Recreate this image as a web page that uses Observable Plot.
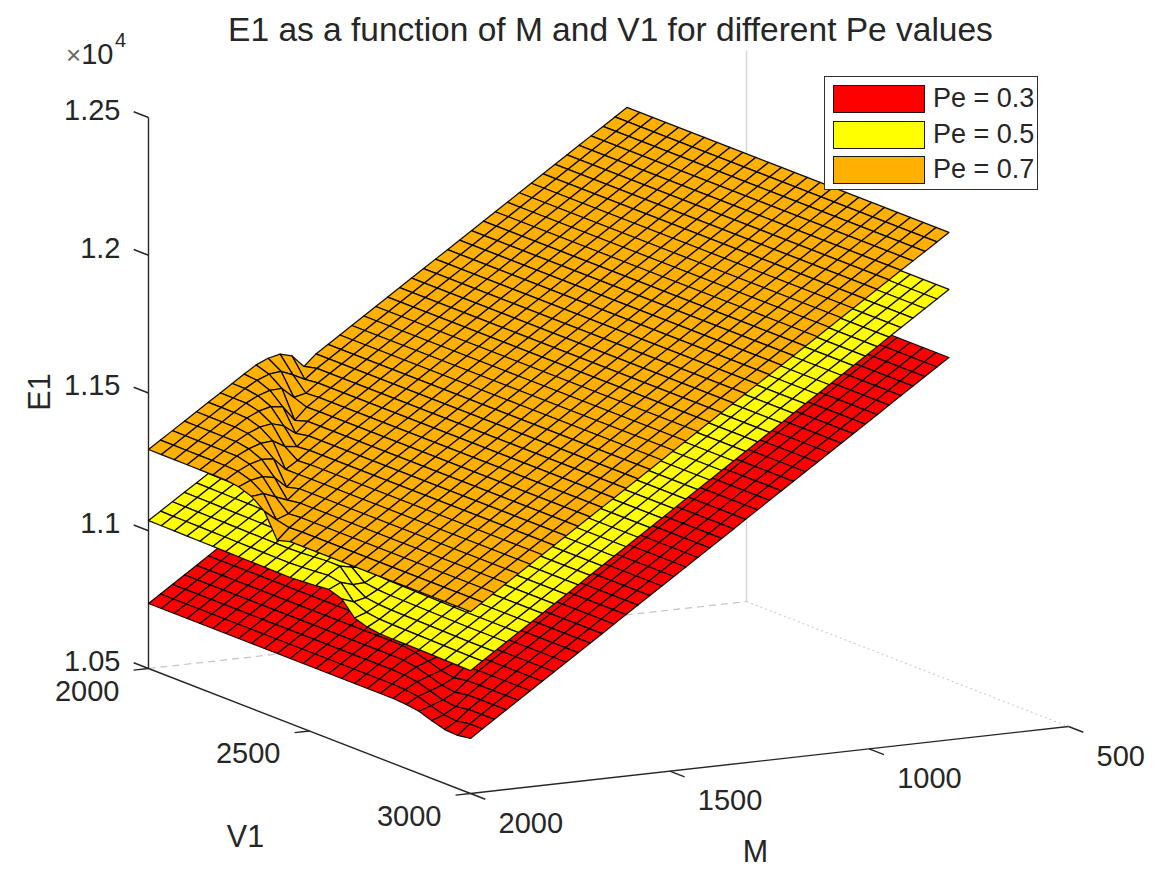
<!DOCTYPE html>
<html>
<head>
<meta charset="utf-8">
<script src="https://cdn.jsdelivr.net/npm/d3@7"></script>
<script src="https://cdn.jsdelivr.net/npm/@observablehq/plot@0.6"></script>
<style>
  body { margin: 0; background: #fff; }
  #wrap { position: relative; width: 1161px; height: 877px; font-family: "Liberation Sans", Arial, sans-serif; color: #262626; }
  #title { height: 28px; padding-top: 16px; line-height: 28px; font-size: 33.5px; text-align: center; width: 1161px; padding-left: 30px; box-sizing: content-box; white-space: nowrap; }
  #legend { position: absolute; left: 824px; top: 76px; width: 212px; height: 112px; border: 1px solid #303030; background: #fff; }
  .row { position: absolute; left: 0; height: 27px; width: 212px; }
  .patch { position: absolute; left: 8px; top: 0; width: 90px; height: 26px; border: 1px solid #1a1a1a; }
  .lab { position: absolute; left: 108px; top: 0; line-height: 27px; font-size: 27px; white-space: nowrap; }
  #exp { position: absolute; left: 66px; top: 40px; font-size: 29px; line-height: 29px; white-space: nowrap; }
  #exp .x { color: #6a6a6a; font-size: 26px; }
  #exp4 { position: absolute; left: 115px; top: 30px; font-size: 20px; line-height: 20px; }
</style>
</head>
<body>
<div id="wrap">
  <div id="title">E1 as a function of M and V1 for different Pe values</div>
  <div id="chart"></div>
  <div id="exp"><span class="x">×</span>10</div>
  <div id="exp4">4</div>
  <div id="legend"></div>
</div>
<script>
// ---------------- data ----------------
const M_GRID = [800, 830, 860, 890, 920, 950, 980, 1010, 1040, 1070, 1100, 1130, 1160, 1190, 1220, 1250, 1280, 1310, 1340, 1370, 1400, 1430, 1460, 1490, 1520, 1550, 1580, 1610, 1640, 1670, 1700, 1730, 1760, 1790, 1820, 1850, 1880, 1910, 1940, 1970, 2000];
const V1_GRID = [2000, 2040, 2080, 2120, 2160, 2200, 2240, 2280, 2320, 2360, 2400, 2440, 2480, 2520, 2560, 2600, 2640, 2680, 2720, 2760, 2800, 2840, 2880, 2920, 2960, 3000];

const PE_LABELS = ["Pe = 0.3", "Pe = 0.5", "Pe = 0.7"];
const PE_COLORS = ["#ff0000", "#ffff00", "#ffb000"];

// E1 of each surface on the plain side, at M = 800 and M = 2000
const BASE_M = [800, 2000];
const BASE_PE03 = [11888, 10700];
const BASE_PE05 = [12135, 10946];
const BASE_PE07 = [12342, 11160];

// step near the M=2000 / V1=2000 corner: extra E1 versus the ratio q = (V1/2000)/(M/2000)^0.85
const Q_EXPONENT = 0.85;
const STEP_Q_PE03 = [1.0, 1.39, 1.42, 1.445, 1.47, 1.49, 1.5, 4];
const STEP_PE03   = [36, 36, 26, 6, -11, -4, 0, 0];
const STEP_Q_PE05 = [1.0, 1.22, 1.27, 1.29, 1.305, 1.318, 1.33, 1.36, 1.5, 4];
const STEP_PE05   = [91, 84, 92, 98, 70, 30, 16, 6, 0, 0];
const STEP_Q_PE07 = [1.0, 1.13, 1.15, 1.165, 1.178, 1.19, 1.199, 1.208, 1.22, 4];
const STEP_PE07   = [135, 133, 121, 104, 80, 42, -15, -5, 0, 0];

const E1_TICKS = [10500, 11000, 11500, 12000, 12500];
const E1_TICK_LABELS = ["1.05", "1.1", "1.15", "1.2", "1.25"];
const M_TICKS = [2000, 1500, 1000, 500];
const V1_TICKS = [2000, 2500, 3000];

// ---------------- view (layout) ----------------
const W = 1161, TOP = 44, H = 877 - TOP;
const BOX_M = [2000, 500], BOX_V = [2000, 3000], BOX_E = [10500, 12500];
const ORIGIN = [148, 668 - TOP];
const VEC_M = [598, -67], VEC_V = [322, 125], VEC_E = [0, -551];

function norm(m, v, e) {
  return [(BOX_M[0] - m) / (BOX_M[0] - BOX_M[1]), (v - BOX_V[0]) / (BOX_V[1] - BOX_V[0]), (e - BOX_E[0]) / (BOX_E[1] - BOX_E[0])];
}
function project(m, v, e) {
  const [a, b, c] = norm(m, v, e);
  return [ORIGIN[0] + a * VEC_M[0] + b * VEC_V[0] + c * VEC_E[0],
          ORIGIN[1] + a * VEC_M[1] + b * VEC_V[1] + c * VEC_E[1]];
}
// direction toward the viewer (null space of the projection)
const VIEW = [(VEC_V[0] * VEC_E[1] - VEC_E[0] * VEC_V[1]),
              (VEC_E[0] * VEC_M[1] - VEC_M[0] * VEC_E[1]),
              (VEC_M[0] * VEC_V[1] - VEC_V[0] * VEC_M[1])];
function depth(m, v, e) {
  const p = norm(m, v, e);
  return VIEW[0] * p[0] + VIEW[1] * p[1] + VIEW[2] * p[2];
}
function interp(xs, ys, x) {
  if (x <= xs[0]) return ys[0];
  for (let i = 1; i < xs.length; i++) {
    if (x <= xs[i]) { const t = (x - xs[i - 1]) / (xs[i] - xs[i - 1]); return ys[i - 1] + t * (ys[i] - ys[i - 1]); }
  }
  return ys[ys.length - 1];
}

const SURFACES = [
  {label: PE_LABELS[0], color: PE_COLORS[0], base: BASE_PE03, stepQ: STEP_Q_PE03, step: STEP_PE03},
  {label: PE_LABELS[1], color: PE_COLORS[1], base: BASE_PE05, stepQ: STEP_Q_PE05, step: STEP_PE05},
  {label: PE_LABELS[2], color: PE_COLORS[2], base: BASE_PE07, stepQ: STEP_Q_PE07, step: STEP_PE07}
];

function e1At(s, m, v) {
  const q = (v / 2000) / Math.pow(m / 2000, Q_EXPONENT);
  return interp(BASE_M, s.base, m) + interp(s.stepQ, s.step, q);
}

function buildQuads(s, sIdx) {
  const Z = M_GRID.map(m => V1_GRID.map(v => e1At(s, m, v)));
  const quads = [];
  for (let i = 0; i < M_GRID.length - 1; i++) {
    for (let j = 0; j < V1_GRID.length - 1; j++) {
      const corners = [[i, j], [i + 1, j], [i + 1, j + 1], [i, j + 1]];
      let dm = 0, dv = 0, de = 0;
      const pts = corners.map(([ii, jj]) => {
        dm += M_GRID[ii]; dv += V1_GRID[jj]; de += Z[ii][jj];
        return project(M_GRID[ii], V1_GRID[jj], Z[ii][jj]);
      });
      quads.push({id: sIdx * 10000 + i * 100 + j, d: depth(dm / 4, dv / 4, de / 4), pts});
    }
  }
  quads.sort((p, q) => p.d - q.d);
  const rows = [];
  for (const qd of quads) for (const p of qd.pts) rows.push({id: qd.id, x: p[0], y: p[1]});
  return rows;
}

// axes
const A0 = project(2000, 2000, 10500), B0 = project(2000, 3000, 10500), C0 = project(500, 3000, 10500), D0 = project(500, 2000, 10500);
const Dtop = project(500, 2000, 12500), Atop = project(2000, 2000, 12500);
const axisLines = [
  {p: A0, q: Atop}, {p: A0, q: B0}, {p: B0, q: C0}
];
const e1Ticks = E1_TICKS.map((e, k) => ({p: project(2000, 2000, e), q: project(2000, 2000 - 46, e), label: E1_TICK_LABELS[k]}));
const v1Ticks = V1_TICKS.map(v => ({p: project(2000, v, 10500), q: project(2037.5, v, 10500), label: String(v)}));
const mTicks = M_TICKS.map(m => ({p: project(m, 3000, 10500), q: project(m, 3046, 10500), label: String(m)}));
const ticks = [...e1Ticks, ...v1Ticks, ...mTicks];

const FONT = "Liberation Sans, Arial, sans-serif";
const INK = "#262626";

const marks = [
  // back box lines
  Plot.link([{p: A0, q: D0}], {x1: d => d.p[0], y1: d => d.p[1], x2: d => d.q[0], y2: d => d.q[1], stroke: "#c4c4c4", strokeWidth: 1.2, strokeDasharray: "7,5"}),
  Plot.link([{p: D0, q: C0}], {x1: d => d.p[0], y1: d => d.p[1], x2: d => d.q[0], y2: d => d.q[1], stroke: "#cccccc", strokeWidth: 1.1, strokeDasharray: "2,3"}),
  Plot.link([{p: D0, q: Dtop}], {x1: d => d.p[0], y1: d => d.p[1], x2: d => d.q[0], y2: d => d.q[1], stroke: "#d6d6d6", strokeWidth: 1.5}),
  // axes
  Plot.link(axisLines, {x1: d => d.p[0], y1: d => d.p[1], x2: d => d.q[0], y2: d => d.q[1], stroke: INK, strokeWidth: 1.4}),
  Plot.link(ticks, {x1: d => d.p[0], y1: d => d.p[1], x2: d => d.q[0], y2: d => d.q[1], stroke: INK, strokeWidth: 1.4})
];

SURFACES.forEach((s, k) => {
  marks.push(Plot.line(buildQuads(s, k), {
    x: "x", y: "y", z: "id", curve: "linear-closed",
    fill: s.color, stroke: "#000", strokeWidth: 1.25, strokeOpacity: 0.95, strokeLinejoin: "round"
  }));
});

marks.push(
  Plot.text(e1Ticks, {x: d => d.p[0] - 28, y: d => d.p[1] - 7, text: "label", textAnchor: "end", fontSize: 29, fill: INK, fontFamily: FONT}),
  Plot.text(v1Ticks, {x: d => d.p[0] - 29, y: d => d.p[1] + 23, text: "label", textAnchor: "end", fontSize: 29, fill: INK, fontFamily: FONT}),
  Plot.text(mTicks, {x: d => d.p[0] + 28, y: d => d.p[1] + 30, text: "label", textAnchor: "start", fontSize: 29, fill: INK, fontFamily: FONT}),
  Plot.text(["V1"], {x: () => (A0[0] + B0[0]) / 2 - 64, y: () => (A0[1] + B0[1]) / 2 + 106, text: d => d, fontSize: 30.5, fill: INK, fontFamily: FONT}),
  Plot.text(["M"], {x: () => (B0[0] + C0[0]) / 2 - 14, y: () => (B0[1] + C0[1]) / 2 + 92, text: d => d, fontSize: 30.5, fill: INK, fontFamily: FONT}),
  Plot.text(["E1"], {x: () => A0[0] - 108, y: () => (A0[1] + Atop[1]) / 2 - 1, text: d => d, rotate: -90, fontSize: 30.5, fill: INK, fontFamily: FONT})
);

const chart = Plot.plot({
  width: W, height: H, margin: 0,
  x: {domain: [0, W], range: [0, W], axis: null},
  y: {domain: [0, H], range: [0, H], axis: null},
  style: {fontFamily: FONT, background: "transparent"},
  marks
});
document.getElementById("chart").appendChild(chart);

// legend
const legend = document.getElementById("legend");
const rowTops = [8, 44, 79];
SURFACES.forEach((s, k) => {
  const row = document.createElement("div");
  row.className = "row";
  row.style.top = rowTops[k] + "px";
  row.innerHTML = `<div class="patch" style="background:${s.color}"></div><div class="lab">${s.label}</div>`;
  legend.appendChild(row);
});
</script>
</body>
</html>
